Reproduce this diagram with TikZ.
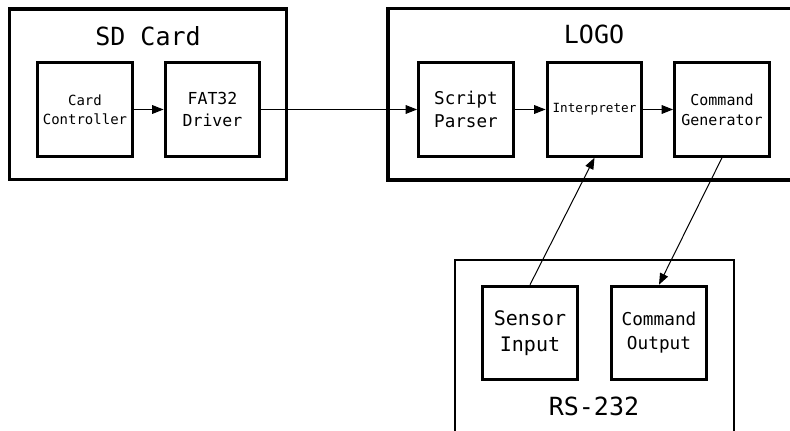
\documentclass[tikz,border=0pt]{standalone}
\usepackage{fontspec}
\setmonofont{DejaVu Sans Mono}
\usetikzlibrary{arrows.meta}

\tikzset{every picture/.style={line width=0.75pt}}
\tikzset{
  group/.style={draw, line width=2.4pt, inner sep=0pt},
  unit/.style={draw, line width=2.4pt, inner sep=0pt, minimum width=71pt, minimum height=70pt, align=center, font=\ttfamily},
  grouptitle/.style={anchor=base, inner sep=0pt, font=\ttfamily\fontsize{18.75pt}{22pt}\selectfont},
  flow/.style={-{Triangle[length=8.5pt,width=6.5pt]}, line width=0.75pt}
}

\begin{document}
\begin{tikzpicture}[x=0.75pt,y=0.75pt,yscale=-1,xscale=1]
\useasboundingbox (0,0) rectangle (790,431);

%Shape: SD Card group
\node [group, minimum width=207.4pt, minimum height=128pt] (sdcard) at (148,94.3) {};
%Shape: LOGO group
\node [group, minimum width=309pt, minimum height=128.6pt] (logo) at (594,94.3) {};
%Shape: RS-232 group
\node [group, line width=1.9pt, minimum width=209.25pt, minimum height=150pt] (rs) at (594.5,360) {};

% Text Node
\node [grouptitle] (sdtitle) at (148,46) {SD Card};
% Text Node
\node [grouptitle] (logotitle) at (594,44) {LOGO};
% Text Node
\node [grouptitle] (rstitle) at (594,416) {RS-232};

%SD Card blocks
\node [unit, font=\ttfamily\fontsize{10.5pt}{14pt}\selectfont] (ctrl) at (85,109.5) {Card\\Controller};
\node [unit, font=\ttfamily\fontsize{12.4pt}{16.5pt}\selectfont] (fat) at (212.5,109.5) {FAT32\\Driver};

%LOGO blocks
\node [unit, font=\ttfamily\fontsize{13.2pt}{17.5pt}\selectfont] (parser) at (466,109.5) {Script\\Parser};
\node [unit, font=\ttfamily\fontsize{9.5pt}{12pt}\selectfont] (interp) at (594.5,109.5) {Interpreter};
\node [unit, font=\ttfamily\fontsize{11.25pt}{15pt}\selectfont] (cmdgen) at (722,109.5) {Command\\Generator};

%RS-232 blocks
\node [unit, font=\ttfamily\fontsize{15pt}{20pt}\selectfont] (sensor) at (530,333) {Sensor\\Input};
\node [unit, font=\ttfamily\fontsize{13.3pt}{18pt}\selectfont] (cmdout) at (659,333) {Command\\Output};

%Straight Lines
\draw [flow] (ctrl) -- (fat);
\draw [flow] (fat) -- (parser);
\draw [flow] (parser) -- (interp);
\draw [flow] (interp) -- (cmdgen);
\draw [flow] (sensor.north) -- (interp.south);
\draw [flow] (cmdgen.south) -- (cmdout.north);

\end{tikzpicture}
\end{document}
